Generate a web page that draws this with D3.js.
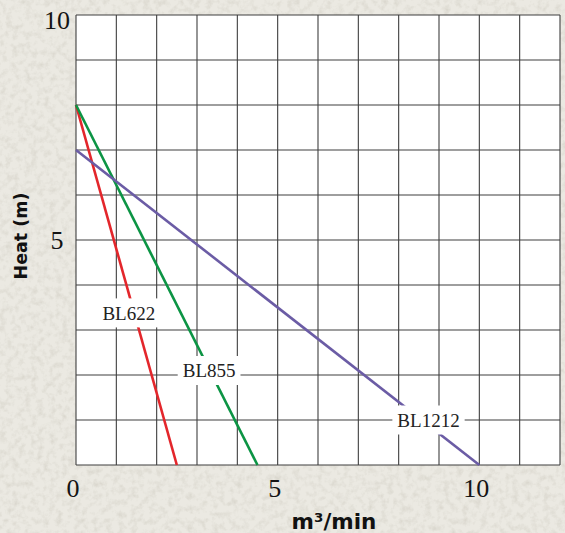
<!DOCTYPE html>
<html>
<head>
<meta charset="utf-8">
<script src="https://cdn.jsdelivr.net/npm/d3@7"></script>
<style>
  body { margin: 0; background: #e6e3da; }
  svg { display: block; }
</style>
</head>
<body>
<svg id="chart" width="565" height="533"></svg>
<script>
// ---------------------------------------------
// Chart data
// ---------------------------------------------

// Pump models
let models = ['BL622', 'BL855', 'BL1212'];

// Flow (m3/min) at the two ends of each curve
let flowStart = [0, 0, 0];
let flowEnd = [2.5, 4.5, 10];

// Head (m) at the two ends of each curve
let headStart = [8, 8, 7];
let headEnd = [0, 0, 0];

// Where each model name sits on its curve (data units)
let labelFlow = [1.31, 3.3, 8.74];
let labelHead = [3.38, 2.1, 1.0];

let lineColors = ['#e3262b', '#0c9444', '#6b5ca5'];

let xTicks = [0, 5, 10];
let yTicks = [5, 10];

// ---------------------------------------------
// Drawing
// ---------------------------------------------

let svg = d3.select('#chart');
let width = 565;
let height = 533;

let plot = {left: 76, right: 560, top: 15, bottom: 465};

let x = d3.scaleLinear().domain([0, 12]).range([plot.left, plot.right]);
let y = d3.scaleLinear().domain([0, 10]).range([plot.bottom, plot.top]);

// Paper-like background
let defs = svg.append('defs');
let paper = defs.append('filter').attr('id', 'paper')
    .attr('x', 0).attr('y', 0).attr('width', '100%').attr('height', '100%');
paper.append('feTurbulence')
    .attr('type', 'fractalNoise')
    .attr('baseFrequency', 0.16)
    .attr('numOctaves', 3)
    .attr('seed', 7);
paper.append('feColorMatrix')
    .attr('type', 'matrix')
    .attr('values', '0 0 0 0 0.58  0 0 0 0 0.56  0 0 0 0 0.49  0 0 0 -2.2 1.25');

svg.append('rect')
    .attr('width', width).attr('height', height)
    .attr('fill', '#ebe9e2');
svg.append('rect')
    .attr('width', width).attr('height', height)
    .attr('filter', 'url(#paper)')
    .attr('opacity', 0.45);

// Plot area
svg.append('rect')
    .attr('x', plot.left).attr('y', plot.top)
    .attr('width', plot.right - plot.left)
    .attr('height', plot.bottom - plot.top)
    .attr('fill', '#ffffff');

// Grid
let grid = svg.append('g').attr('stroke', '#3f3f3f').attr('stroke-width', 1.1);
grid.selectAll('line.v').data(d3.range(0, 13))
    .join('line')
    .attr('class', 'v')
    .attr('x1', (d) => x(d)).attr('x2', (d) => x(d))
    .attr('y1', plot.top).attr('y2', plot.bottom);
grid.selectAll('line.h').data(d3.range(0, 11))
    .join('line')
    .attr('class', 'h')
    .attr('x1', plot.left).attr('x2', plot.right)
    .attr('y1', (d) => y(d)).attr('y2', (d) => y(d));

// Curves
let curves = models.map((m, i) => ({
  name: m,
  color: lineColors[i],
  points: [[flowStart[i], headStart[i]], [flowEnd[i], headEnd[i]]],
  lx: labelFlow[i],
  ly: labelHead[i]
}));

let line = d3.line().x((p) => x(p[0])).y((p) => y(p[1]));

svg.append('g').selectAll('path').data(curves)
    .join('path')
    .attr('d', (c) => line(c.points))
    .attr('fill', 'none')
    .attr('stroke', (c) => c.color)
    .attr('stroke-width', 2.6);

// Model labels with white boxes
let labels = svg.append('g').selectAll('g').data(curves)
    .join('g')
    .attr('transform', (c) => `translate(${x(c.lx)},${y(c.ly)})`);

labels.append('text')
    .attr('text-anchor', 'middle')
    .attr('dy', '0.35em')
    .attr('font-family', '"Liberation Serif", "Times New Roman", serif')
    .attr('font-size', 19)
    .attr('fill', '#222')
    .text((c) => c.name);

labels.each(function() {
  let g = d3.select(this);
  let box = g.select('text').node().getBBox();
  g.insert('rect', 'text')
      .attr('x', box.x - 5).attr('y', -14.5)
      .attr('width', box.width + 10).attr('height', 29)
      .attr('fill', '#ffffff');
});

// Tick labels
let tickFont = '"Liberation Serif", "Times New Roman", serif';

svg.append('g').selectAll('text').data(xTicks)
    .join('text')
    .attr('x', (d) => x(d) - 3)
    .attr('y', 497)
    .attr('text-anchor', 'middle')
    .attr('font-family', tickFont)
    .attr('font-size', 26)
    .attr('fill', '#141414')
    .text((d) => d);

svg.append('g').selectAll('text').data(yTicks)
    .join('text')
    .attr('x', 57)
    .attr('y', (d) => y(d) + (d === 10 ? 14 : 9))
    .attr('text-anchor', 'middle')
    .attr('font-family', tickFont)
    .attr('font-size', 26)
    .attr('fill', '#141414')
    .text((d) => d);

// Axis titles
svg.append('text')
    .attr('transform', 'translate(27,236) rotate(-90)')
    .attr('text-anchor', 'middle')
    .attr('font-family', '"DejaVu Sans", sans-serif')
    .attr('font-weight', 'bold')
    .attr('font-size', 17.5)
    .attr('fill', '#111')
    .text('Heat (m)');

svg.append('text')
    .attr('x', 334)
    .attr('y', 529)
    .attr('text-anchor', 'middle')
    .attr('font-family', '"DejaVu Sans", sans-serif')
    .attr('font-weight', 'bold')
    .attr('font-size', 21.5)
    .attr('fill', '#111')
    .text('m³/min');
</script>
</body>
</html>
